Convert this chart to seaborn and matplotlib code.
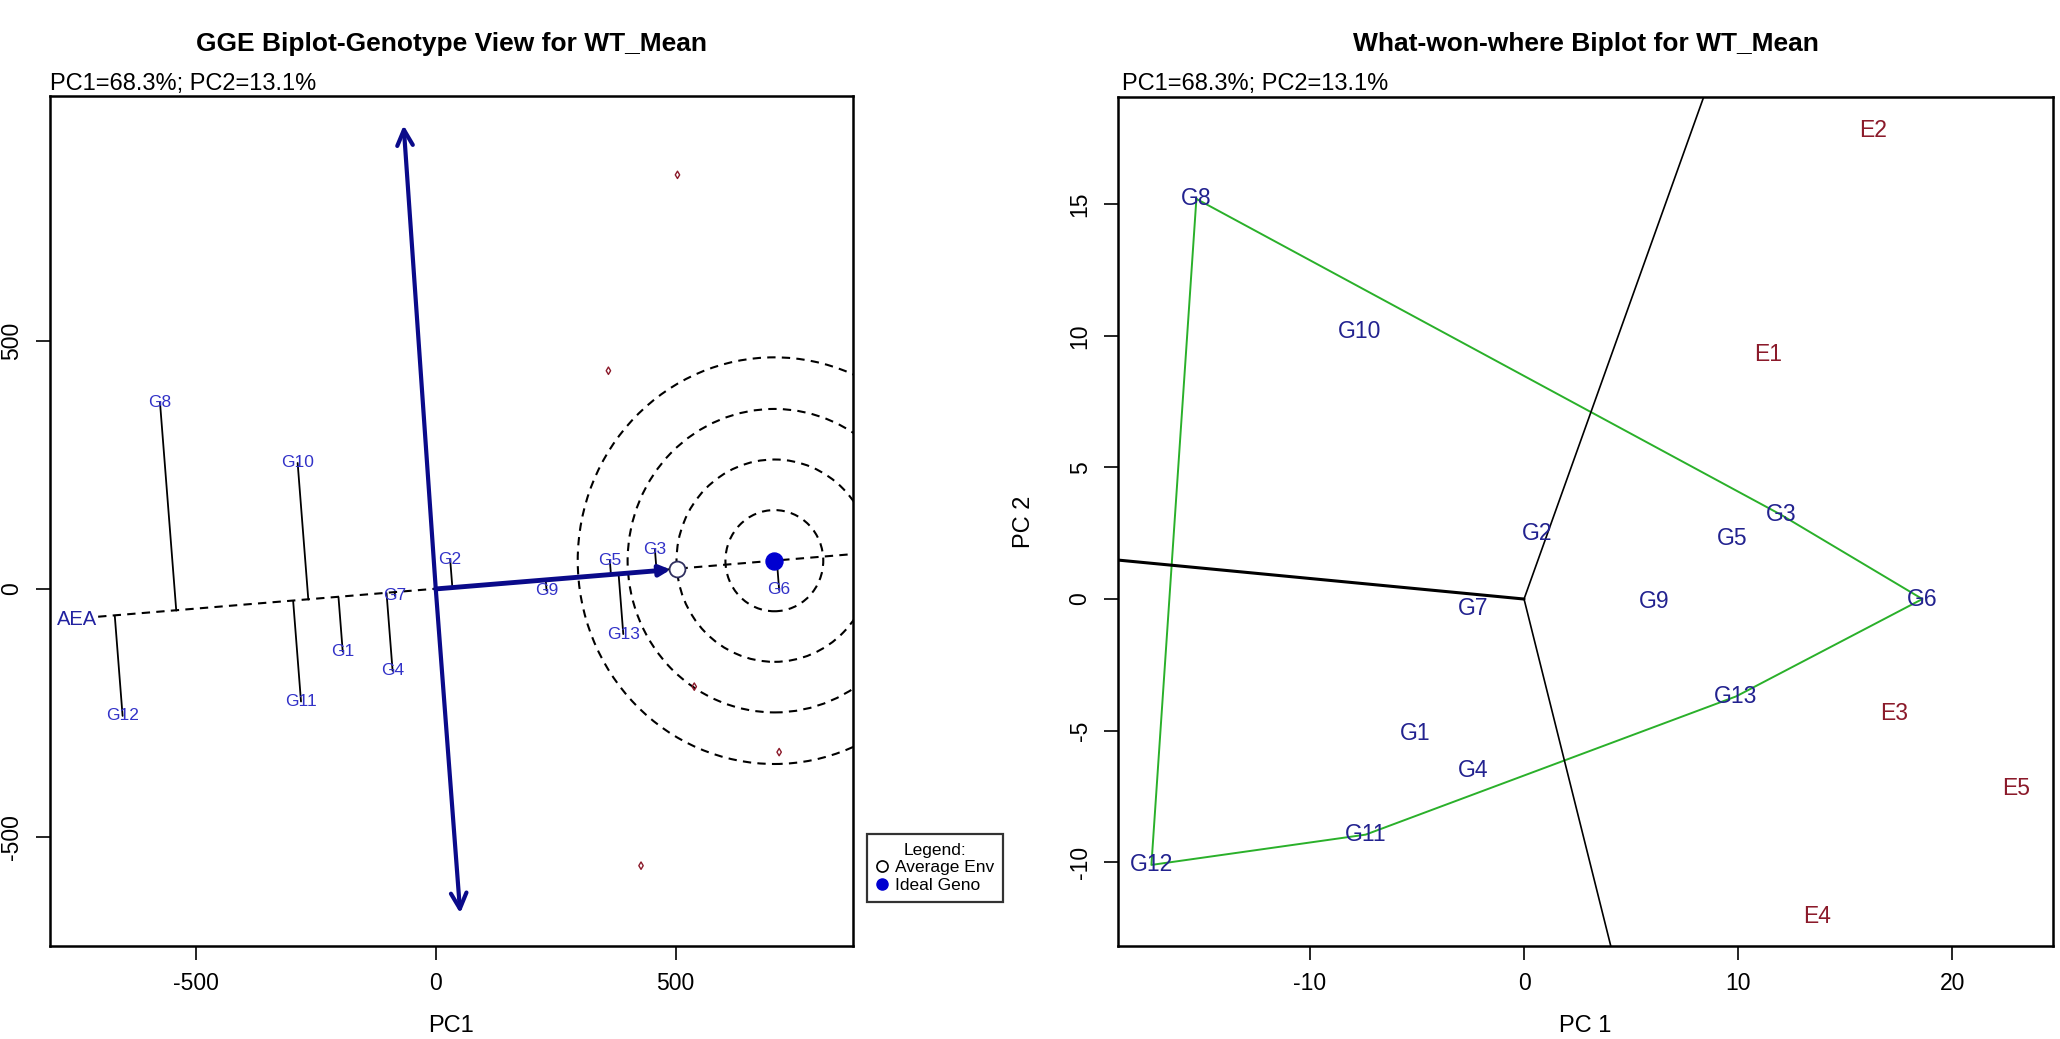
import numpy as np
import matplotlib
matplotlib.use("Agg")
import matplotlib.pyplot as plt
from matplotlib.patches import Circle
from matplotlib.lines import Line2D
import pandas as pd
import seaborn as sns

# ---- data ----
geno_names = ["G1", "G2", "G3", "G4", "G5", "G6", "G7",
              "G8", "G9", "G10", "G11", "G12", "G13"]

# genotype view (left panel)
gv_pc1 = [-194, 30, 457, -90, 363, 716, -85, -575, 231, -288, -281, -653, 391]
gv_pc2 = [-126, 60, 79, -165, 57, -2, -14, 376, -3, 254, -227, -256, -91]

env_names = ["E1", "E2", "E3", "E4", "E5"]
gv_env_pc1 = [360, 504, 539, 428, 716]
gv_env_pc2 = [440, 835, -197, -558, -329]

avg_env = [504, 40]
ideal_geno = [706, 57]
aea_start = [-704, -56]
atc_top = [-67, 935]
atc_bottom = [51, -654]
circle_radii = [102, 204, 306, 410]

# what-won-where (right panel)
ww_pc1 = [-5.1, 0.6, 12.0, -2.4, 9.7, 18.6, -2.4, -15.3, 6.1, -7.7, -7.4, -17.4, 9.9]
ww_pc2 = [-5.1, 2.5, 3.2, -6.5, 2.3, 0.0, -0.35, 15.2, -0.1, 10.15, -8.95, -10.1, -3.7]
ww_env_pc1 = [11.4, 16.3, 17.3, 13.7, 23.0]
ww_env_pc2 = [9.3, 17.8, -4.35, -12.05, -7.2]

hull_order = ["G8", "G3", "G6", "G13", "G11", "G12", "G8"]
sector_ends_x = [8.38, -18.96, 4.05]
sector_ends_y = [19.05, 1.48, -13.18]
sector_widths = [1.2, 2.2, 1.2]

title_left = "GGE Biplot-Genotype View for WT_Mean"
title_right = "What-won-where Biplot for WT_Mean"
subtitle = "PC1=68.3%; PC2=13.1%"

GENO_L = "#3232c8"
GENO_R = "#22228f"
ENV_C = "#8b1a2a"
NAVY = "#0a0a8a"
HULL = "#2ab02a"

sns.set_theme(style="white")
plt.rcParams["font.family"] = ["Liberation Sans", "DejaVu Sans"]
plt.rcParams["axes.unicode_minus"] = False
plt.rcParams["text.color"] = "black"
plt.rcParams["axes.labelcolor"] = "black"

W, H = 2060, 1039
fig = plt.figure(figsize=(W / 100, H / 100), dpi=100)


def frame(ax):
    for s in ax.spines.values():
        s.set_color("black")
        s.set_linewidth(1.8)
    ax.tick_params(bottom=True, left=True, length=10, width=1.2,
                   direction="out", labelsize=16.5, pad=9, colors="black")
    for lab in ax.get_yticklabels():
        lab.set_rotation(90)
        lab.set_va("center")


# ---------------- left panel ----------------
ax1 = fig.add_axes([49.7 / W, 1 - 946 / H, 803.3 / W, 850 / H])
ax1.set_xlim(-805, 870)
ax1.set_ylim(-720, 994)

gv = pd.DataFrame({"name": geno_names, "pc1": gv_pc1, "pc2": gv_pc2})

# average environment axis
slope = ideal_geno[1] / ideal_geno[0]
sns.lineplot(x=[aea_start[0], 900], y=[aea_start[1], 900 * slope],
             sort=False, estimator=None, color="black", lw=1.5,
             linestyle=(0, (4, 3)), ax=ax1)

# projections of genotypes on the AEA
u = np.array([1.0, slope]) / np.hypot(1.0, slope)
for _, r in gv.iterrows():
    g = np.array([r.pc1, r.pc2])
    foot = g.dot(u) * u
    ax1.plot([g[0], foot[0]], [g[1], foot[1]], color="black", lw=1.3)

# concentric circles round the ideal genotype
for rad in circle_radii:
    ax1.add_patch(Circle(ideal_geno, rad, fill=False, ec="black", lw=1.5,
                         ls=(0, (4, 3))))

# ATC ordinate (double arrow)
for tip in (atc_top, atc_bottom):
    ax1.annotate("", xy=tip, xytext=(0, 0),
                 arrowprops=dict(arrowstyle="->", color=NAVY, lw=3,
                                 mutation_scale=28, shrinkA=0, shrinkB=0))
# ATC abscissa arrow
ax1.annotate("", xy=(avg_env[0] - 14, avg_env[1] - 1), xytext=(0, 0),
             arrowprops=dict(arrowstyle="-|>", color=NAVY, lw=3.5,
                             mutation_scale=16, shrinkA=0, shrinkB=0))

sns.scatterplot(x=gv_env_pc1, y=gv_env_pc2, marker="d", s=14,
                facecolor="none", edgecolor=ENV_C, linewidth=1, ax=ax1)
sns.scatterplot(x=[avg_env[0]], y=[avg_env[1]], marker="o", s=130,
                facecolor="white", edgecolor="#303060", linewidth=1.3, ax=ax1,
                zorder=5)
sns.scatterplot(x=[ideal_geno[0]], y=[ideal_geno[1]], marker="o", s=150,
                color="#0000d0", edgecolor="#0000d0", ax=ax1, zorder=5)

for _, r in gv.iterrows():
    ax1.text(r.pc1, r.pc2, r["name"], color=GENO_L, fontsize=12.5,
             ha="center", va="center", zorder=6)
ax1.text(-748, -61, "AEA", color="#2222a0", fontsize=14.5,
         ha="center", va="center")

ax1.set_xticks([-500, 0, 500])
ax1.set_yticks([-500, 0, 500])
ax1.set_xlabel("")
ax1.set_ylabel("")
frame(ax1)

fig.text((49.7 + 853) / 2 / W, 1 - 44 / H, title_left, ha="center",
         va="center", fontsize=19, fontweight="bold")
fig.text(49.7 / W, 1 - 84 / H, subtitle, ha="left", va="center", fontsize=17)
fig.text((49.7 + 853) / 2 / W, 2 / H, "PC1", ha="center", va="bottom",
         fontsize=17)

handles = [Line2D([], [], marker="o", ls="none", mfc="white", mec="black",
                  mew=1.2, ms=8),
           Line2D([], [], marker="o", ls="none", mfc="#0000d0", mec="#0000d0",
                  ms=8)]
leg = fig.legend(handles, ["Average Env", "Ideal Geno"], title="Legend:",
                 loc="upper left", bbox_to_anchor=(867 / W, 1 - 834 / H),
                 frameon=True, fancybox=False, edgecolor="black",
                 fontsize=12.5, title_fontsize=12.5, handlelength=0.7,
                 handletextpad=0.4, borderpad=0.5, labelspacing=0.15,
                 borderaxespad=0)
leg.get_frame().set_linewidth(1.6)

# ---------------- right panel ----------------
ax2 = fig.add_axes([1118 / W, 1 - 946 / H, 935 / W, 849 / H])
ax2.set_xlim(-18.96, 24.7)
ax2.set_ylim(-13.18, 19.07)

ww = pd.DataFrame({"name": geno_names, "pc1": ww_pc1, "pc2": ww_pc2})
hull = ww.set_index("name").loc[hull_order].reset_index()
sns.lineplot(data=hull, x="pc1", y="pc2", sort=False, estimator=None,
             color=HULL, lw=1.4, ax=ax2)

for ex, ey, lw in zip(sector_ends_x, sector_ends_y, sector_widths):
    sns.lineplot(x=[0, ex], y=[0, ey], sort=False, estimator=None,
                 color="black", lw=lw, ax=ax2)

for _, r in ww.iterrows():
    ax2.text(r.pc1, r.pc2, r["name"], color=GENO_R, fontsize=16.5,
             ha="center", va="center")
for n, ex, ey in zip(env_names, ww_env_pc1, ww_env_pc2):
    ax2.text(ex, ey, n, color=ENV_C, fontsize=16.5, ha="center", va="center")

ax2.set_xticks([-10, 0, 10, 20])
ax2.set_yticks([-10, -5, 0, 5, 10, 15])
ax2.set_xlabel("")
ax2.set_ylabel("PC 2", fontsize=17)
ax2.yaxis.set_label_coords((1035 - 1118) / 935, 0.5)
frame(ax2)

fig.text((1118 + 2053) / 2 / W, 1 - 44 / H, title_right, ha="center",
         va="center", fontsize=19, fontweight="bold")
fig.text(1122 / W, 1 - 84 / H, subtitle, ha="left", va="center", fontsize=17)
fig.text((1118 + 2053) / 2 / W, 2 / H, "PC 1", ha="center", va="bottom",
         fontsize=17)

fig.savefig("out.png", dpi=100)
